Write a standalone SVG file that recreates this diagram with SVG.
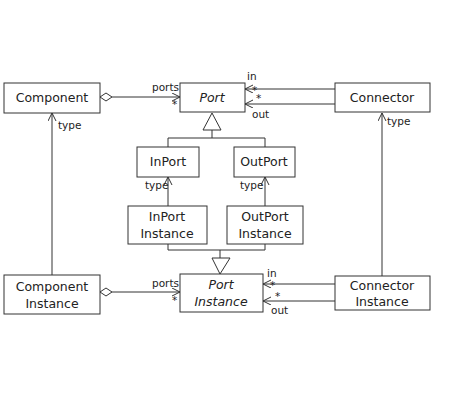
<svg xmlns="http://www.w3.org/2000/svg" width="450" height="400" viewBox="0 0 450 400">
<style>
.box{fill:#fff;stroke:#333;stroke-width:1}
.t{font-family:"DejaVu Sans",sans-serif;font-size:12.5px;fill:#222;text-anchor:middle}
.i{font-style:italic}
.l{font-family:"DejaVu Sans",sans-serif;font-size:10.5px;fill:#222}
.ln{fill:none;stroke:#333;stroke-width:1}
</style>
<defs>
<marker id="open" markerWidth="10" markerHeight="10" refX="8" refY="4" orient="auto" markerUnits="userSpaceOnUse">
<path d="M0,0 L8,4 L0,8" fill="none" stroke="#333"/>
</marker>
</defs>
<rect width="450" height="400" fill="#fff"/>
<g id="connectors">
<path class="ln" d="M100,97 L106,93 L112,97 L106,101 Z" fill="#fff"/>
<line class="ln" x1="112" y1="97" x2="180" y2="97" marker-end="url(#open)"/>
<line class="ln" x1="335" y1="89" x2="245" y2="89" marker-end="url(#open)"/>
<line class="ln" x1="335" y1="104" x2="245" y2="104" marker-end="url(#open)"/>
<line class="ln" x1="52" y1="275" x2="52" y2="113" marker-end="url(#open)"/>
<line class="ln" x1="382" y1="276" x2="382" y2="113" marker-end="url(#open)"/>
<path class="ln" d="M212,113 L221,130 L203,130 Z" fill="#fff"/>
<path class="ln" d="M212,130 V138 M168,147 V138 H265 V147"/>
<line class="ln" x1="168" y1="206" x2="168" y2="177" marker-end="url(#open)"/>
<line class="ln" x1="265" y1="206" x2="265" y2="177" marker-end="url(#open)"/>
<path class="ln" d="M220,274 L230,258 L212,258 Z" fill="#fff"/>
<path class="ln" d="M220,258 V250 M168,244 V250 H265 V244"/>
<path class="ln" d="M100,292 L106,288 L112,292 L106,296 Z" fill="#fff"/>
<line class="ln" x1="112" y1="292" x2="180" y2="292" marker-end="url(#open)"/>
<line class="ln" x1="335" y1="284" x2="263" y2="284" marker-end="url(#open)"/>
<line class="ln" x1="335" y1="301" x2="263" y2="301" marker-end="url(#open)"/>
<text class="l" x="152" y="91">ports</text>
<text class="l" x="172" y="108">*</text>
<text class="l" x="247" y="80">in</text>
<text class="l" x="252" y="94">*</text>
<text class="l" x="256" y="102">*</text>
<text class="l" x="252" y="118">out</text>
<text class="l" x="58" y="129">type</text>
<text class="l" x="387" y="125">type</text>
<text class="l" x="145" y="189">type</text>
<text class="l" x="240" y="189">type</text>
<text class="l" x="152" y="287">ports</text>
<text class="l" x="172" y="304">*</text>
<text class="l" x="267" y="277">in</text>
<text class="l" x="270" y="289">*</text>
<text class="l" x="275" y="300">*</text>
<text class="l" x="271" y="314">out</text>
</g>
<g id="component"><rect class="box" x="4" y="83" width="96" height="30"/><text class="t" x="52" y="102">Component</text></g>
<g id="port"><rect class="box" x="180" y="83" width="65" height="29"/><text class="t i" x="212" y="102">Port</text></g>
<g id="connector"><rect class="box" x="335" y="83" width="95" height="29"/><text class="t" x="382" y="102">Connector</text></g>
<g id="inport"><rect class="box" x="137" y="147" width="62" height="30"/><text class="t" x="168" y="166">InPort</text></g>
<g id="outport"><rect class="box" x="234" y="147" width="61" height="30"/><text class="t" x="264" y="166">OutPort</text></g>
<g id="inportinstance"><rect class="box" x="128" y="206" width="79" height="38"/><text class="t" x="167" y="221">InPort</text><text class="t" x="167" y="238">Instance</text></g>
<g id="outportinstance"><rect class="box" x="227" y="206" width="76" height="38"/><text class="t" x="265" y="221">OutPort</text><text class="t" x="265" y="238">Instance</text></g>
<g id="componentinstance"><rect class="box" x="4" y="275" width="96" height="39"/><text class="t" x="52" y="291">Component</text><text class="t" x="52" y="308">Instance</text></g>
<g id="portinstance"><rect class="box" x="180" y="274" width="83" height="38"/><text class="t i" x="221" y="289">Port</text><text class="t i" x="221" y="306">Instance</text></g>
<g id="connectorinstance"><rect class="box" x="335" y="276" width="95" height="34"/><text class="t" x="382" y="290">Connector</text><text class="t" x="382" y="306">Instance</text></g>
</svg>
